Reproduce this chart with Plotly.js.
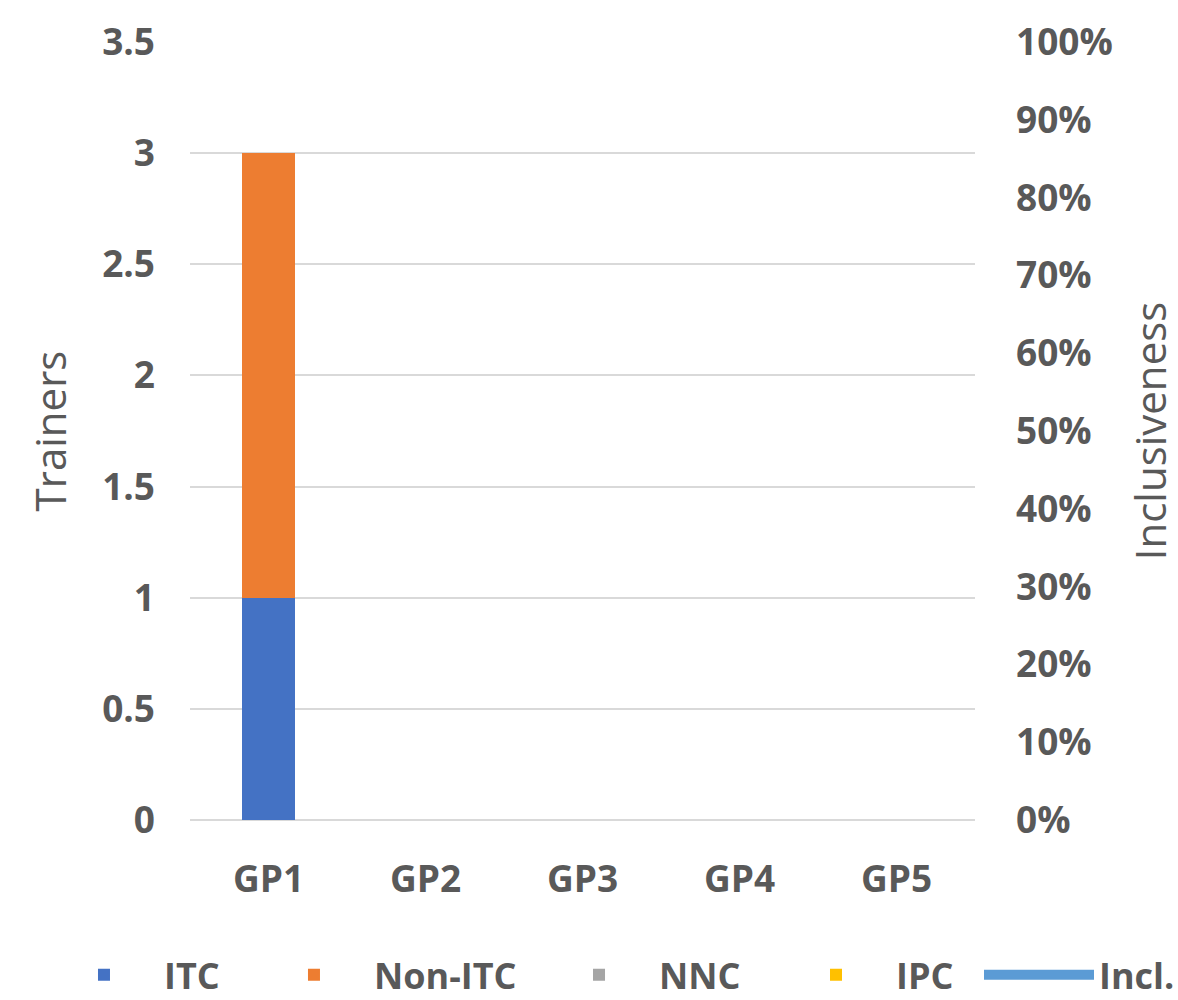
<!DOCTYPE html>
<html><head><meta charset="utf-8">
<script src="https://cdn.plot.ly/plotly-3.0.1.min.js"></script>
<style>body{margin:0;background:#fff}#chart{width:1178px;height:1000px}</style>
</head><body><div id="chart"></div>
<script>
const categories = ["GP1","GP2","GP3","GP4","GP5"];
const itc = [1,0,0,0,0];
const nonItc = [2,0,0,0,0];
const nnc = [0,0,0,0,0];
const ipc = [0,0,0,0,0];
const incl = [null,null,null,null,null];
const yTicks = [0,0.5,1,1.5,2,2.5,3,3.5];
const yTickText = ["0","0.5","1","1.5","2","2.5","3","3.5"];

const fam = "Open Sans, Liberation Sans, sans-serif";
const tickFont = {family:fam, color:"#595959", size:37, weight:"bold"};
const titleFont = {family:fam, color:"#595959", size:42};
const legFont = {family:fam, size:36, color:"#595959", weight:"bold"};
function leg(x){ return {orientation:"h", x:x, xanchor:"left", y:-0.199, yanchor:"middle", font:legFont, itemwidth:110, bgcolor:"rgba(0,0,0,0)"}; }

const traces = [
  {type:"bar", name:"ITC", x:categories, y:itc, marker:{color:"#4472C4"}, legend:"legend"},
  {type:"bar", name:"Non-ITC", x:categories, y:nonItc, marker:{color:"#ED7D31"}, legend:"legend2"},
  {type:"bar", name:"NNC", x:categories, y:nnc, marker:{color:"#A5A5A5"}, legend:"legend3"},
  {type:"bar", name:"IPC", x:categories, y:ipc, marker:{color:"#FFC000"}, legend:"legend4"},
  {type:"scatter", mode:"lines", name:"Incl.", x:categories, y:incl, yaxis:"y2", line:{color:"#5B9BD5", width:12}, legend:"legend5"}
];
const layout = {
  width:1178, height:1000,
  margin:{l:190, r:203, t:42, b:180, autoexpand:false},
  barmode:"stack", bargap:0.66,
  font:{family:fam, color:"#595959", size:30},
  paper_bgcolor:"#fff", plot_bgcolor:"#fff",
  showlegend:true,
  legend:leg(-0.186),
  legend2:leg(0.0815),
  legend3:leg(0.4446),
  legend4:leg(0.7465),
  legend5:leg(1.0051),
  xaxis:{type:"category", showgrid:false, showline:false, zeroline:false, ticks:"", ticklabelstandoff:34, tickfont:tickFont},
  yaxis:{range:[0,3.5], tickvals:yTicks, ticktext:yTickText, showgrid:true, gridcolor:"#d9d9d9", gridwidth:2, zeroline:true, zerolinecolor:"#d9d9d9", zerolinewidth:2, ticks:"", ticklabelstandoff:34, tickfont:tickFont, title:{text:"Trainers", font:titleFont, standoff:22}, automargin:false},
  yaxis2:{overlaying:"y", side:"right", range:[0,1], dtick:0.1, tickformat:".0%", showgrid:false, zeroline:false, showline:false, ticks:"", ticklabelstandoff:40, tickfont:tickFont, title:{text:"Inclusiveness", font:titleFont, standoff:30}, automargin:false}
};
Plotly.newPlot("chart", traces, layout, {displayModeBar:false});
</script></body></html>
